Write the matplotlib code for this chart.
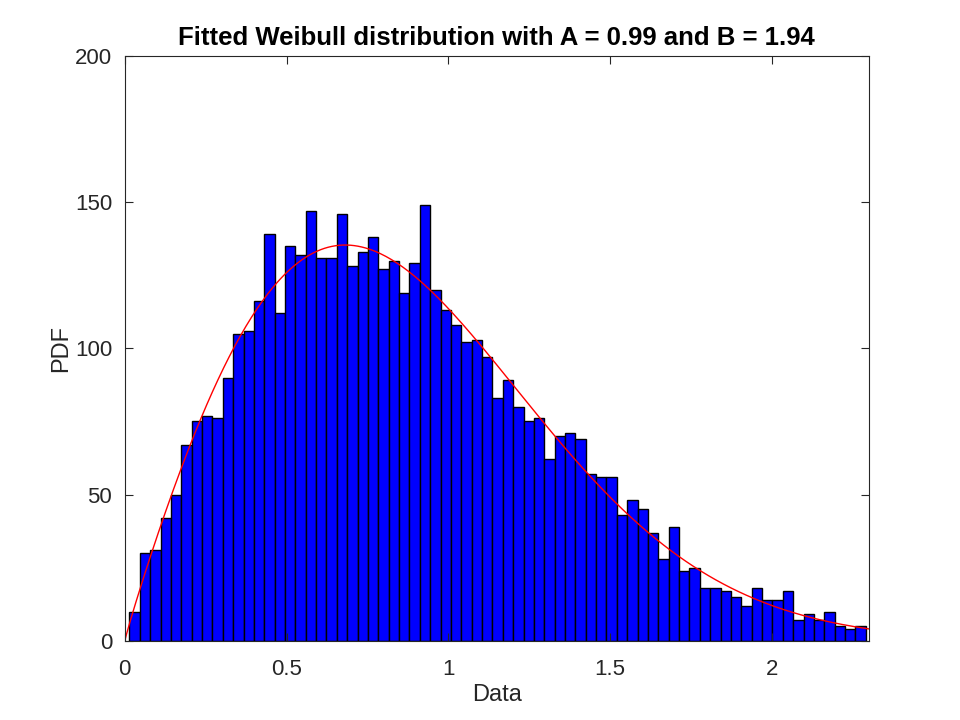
import numpy as np
import matplotlib
matplotlib.use('Agg')
import matplotlib.pyplot as plt

# histogram counts (71 bins)
counts = [10, 30, 31, 42, 50, 67, 75, 77, 76, 90,
          105, 106, 116, 139, 112, 135, 132, 147, 131, 131,
          146, 128, 133, 138, 127, 130, 119, 129, 149, 120,
          113, 108, 102, 103, 97, 83, 89, 80, 75, 76,
          62, 70, 71, 69, 57, 56, 56, 43, 48, 45,
          37, 28, 39, 24, 25, 18, 18, 17, 15, 12,
          18, 14, 14, 17, 7, 9, 7, 10, 5, 4, 5]
bin_start = 0.0143
bin_width = 0.03206

# fitted Weibull parameters (scale A, shape B)
A = 0.99
B = 1.94

plt.rcParams['font.family'] = ['Liberation Sans', 'DejaVu Sans']
dark = '#262626'

fig = plt.figure(figsize=(9.6, 7.2), dpi=100)
ax = fig.add_axes([0.13, 0.11, 0.775, 0.8125])

left_edges = bin_start + bin_width * np.arange(len(counts))
ax.bar(left_edges, counts, width=bin_width, align='edge',
       color='#0000ff', edgecolor='black', linewidth=1.0)

x = np.linspace(0, 2.3, 400)
pdf = (B / A) * (x / A) ** (B - 1) * np.exp(-(x / A) ** B)
ax.plot(x, pdf * sum(counts) * bin_width, color='red', linewidth=1.0)

ax.set_xlim(0, 2.3)
ax.set_ylim(0, 200)
ax.set_xticks([0, 0.5, 1, 1.5, 2])
ax.set_xticklabels(['0', '0.5', '1', '1.5', '2'])
ax.set_yticks([0, 50, 100, 150, 200])

ax.tick_params(direction='in', length=5.5, width=0.8, top=True, right=True,
               labelsize=16, colors=dark)
ax.tick_params(axis='x', pad=13)
ax.tick_params(axis='y', pad=9)
for s in ax.spines.values():
    s.set_color(dark)
    s.set_linewidth(0.8)

ax.set_xlabel('Data', fontsize=17, color=dark, labelpad=3)
ax.set_ylabel('PDF', fontsize=17, color=dark, labelpad=2)
ax.set_title('Fitted Weibull distribution with A = 0.99 and B = 1.94',
             fontsize=18.5, fontweight='bold', color='black', pad=8)

fig.savefig('out.png', dpi=100)
